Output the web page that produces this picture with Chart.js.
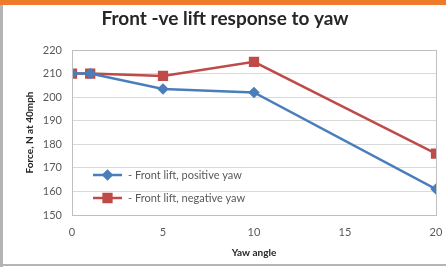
<!DOCTYPE html>
<html>
<head>
<meta charset="utf-8">
<script src="https://cdn.jsdelivr.net/npm/chart.js@4"></script>
<style>
  body { margin: 0; background: #fff; }
  #wrap { position: relative; width: 446px; height: 269px; overflow: hidden; }
  #wrap canvas { position: absolute; left: 0; top: 0; }
  .edge { position: absolute; z-index: 2; }
  #topBar { left: 0; top: 0; width: 446px; height: 5px; background: #f07a2c; }
  #leftBar { left: 0; top: 5px; width: 3px; height: 262px; background: #b4b4b4; }
  #bottomBar { left: 0; top: 264px; width: 446px; height: 2px; background: #b4b4b4; }
</style>
</head>
<body>
<div id="wrap">
  <canvas id="yawChart" width="446" height="269"></canvas>
  <div class="edge" id="topBar"></div>
  <div class="edge" id="leftBar"></div>
  <div class="edge" id="bottomBar"></div>
</div>
<script>
// chart data
const yawAngles = [0, 1, 5, 10, 20];
const positiveYaw = [210, 210, 203.5, 202, 161];
const negativeYaw = [210, 210, 209, 215, 176];
const seriesNames = ['- Front lift, positive yaw', '- Front lift, negative yaw'];
const yTicks = [150, 160, 170, 180, 190, 200, 210, 220];
const xTicks = [0, 5, 10, 15, 20];

const blue = '#4a7ebb';
const red = '#be4b48';
const textGray = '#595959';
const fontName = 'Lato, "Liberation Sans", sans-serif';

function toPoints(values) {
    return yawAngles.map(function(a, i) { return { x: a, y: values[i] }; });
}

// plot area box + legend inside the chart area
const boxAndLegend = {
    id: 'boxAndLegend',
    afterDraw: function(chart) {
        const ctx = chart.ctx;
        const area = chart.chartArea;
        ctx.save();
        ctx.strokeStyle = '#bfbfbf';
        ctx.lineWidth = 1;
        ctx.strokeRect(Math.round(area.left) + 0.5, Math.round(area.top) + 0.5,
            Math.round(area.right - area.left), Math.round(area.bottom - area.top));

        chart.data.datasets.forEach(function(ds, i) {
            const y = area.top + 125 + i * 23;
            const x0 = area.left + 21;
            ctx.strokeStyle = ds.borderColor;
            ctx.lineWidth = 2.5;
            ctx.beginPath();
            ctx.moveTo(x0, y);
            ctx.lineTo(x0 + 29, y);
            ctx.stroke();
            Chart.helpers.drawPoint(ctx, {
                pointStyle: ds.pointStyle,
                radius: ds.pointRadius,
                borderWidth: 1
            }, x0 + 14.5, y);
            ctx.fillStyle = ds.pointBackgroundColor;
            ctx.fill();
            ctx.fillStyle = textGray;
            ctx.font = '11px ' + fontName;
            ctx.textBaseline = 'middle';
            ctx.textAlign = 'left';
            ctx.fillText(ds.label, x0 + 35, y);
        });
        ctx.restore();
    }
};

new Chart(document.getElementById('yawChart').getContext('2d'), {
    type: 'line',
    data: {
        datasets: [{
            label: seriesNames[0],
            data: toPoints(positiveYaw),
            borderColor: blue,
            backgroundColor: blue,
            pointBackgroundColor: blue,
            pointBorderColor: blue,
            pointStyle: 'rectRot',
            pointRadius: 4,
            borderWidth: 2.5,
            tension: 0
        }, {
            label: seriesNames[1],
            data: toPoints(negativeYaw),
            borderColor: red,
            backgroundColor: red,
            pointBackgroundColor: red,
            pointBorderColor: red,
            pointStyle: 'rect',
            pointRadius: 5.5,
            borderWidth: 2.5,
            tension: 0
        }]
    },
    options: {
        responsive: false,
        animation: false,
        layout: { padding: { top: 0, right: 10, left: 14, bottom: 0 } },
        plugins: {
            legend: { display: false },
            tooltip: { enabled: false },
            title: {
                display: true,
                text: 'Front -ve lift response to yaw',
                color: '#262626',
                font: { family: fontName, size: 19, weight: 'bold' },
                padding: { top: 7, bottom: 20.2 }
            }
        },
        scales: {
            x: {
                type: 'linear',
                min: 0,
                max: 20,
                afterBuildTicks: function(axis) {
                    axis.ticks = xTicks.map(function(v) { return { value: v }; });
                },
                afterFit: function(axis) {
                    axis.height = 54;
                    axis.paddingLeft = 0;
                    axis.paddingRight = 0;
                },
                grid: { display: false, drawTicks: false },
                border: { display: false },
                ticks: { color: textGray, font: { family: fontName, size: 11 }, padding: 11, maxRotation: 0 },
                title: {
                    display: true,
                    text: 'Yaw angle',
                    color: '#262626',
                    font: { family: fontName, size: 10, weight: 'bold' },
                    padding: { top: 0, bottom: 10 }
                }
            },
            y: {
                min: 150,
                max: 220,
                afterBuildTicks: function(axis) {
                    axis.ticks = yTicks.map(function(v) { return { value: v }; });
                },
                afterFit: function(axis) { axis.width = 58; },
                grid: { color: '#d9d9d9', drawTicks: false },
                border: { display: false },
                ticks: { color: textGray, font: { family: fontName, size: 11 }, padding: 10 },
                title: {
                    display: true,
                    text: 'Force, N at 40mph',
                    color: '#262626',
                    font: { family: fontName, size: 10, weight: 'bold' },
                    padding: { top: 10, bottom: 0 }
                }
            }
        }
    },
    plugins: [boxAndLegend]
});
</script>
</body>
</html>
